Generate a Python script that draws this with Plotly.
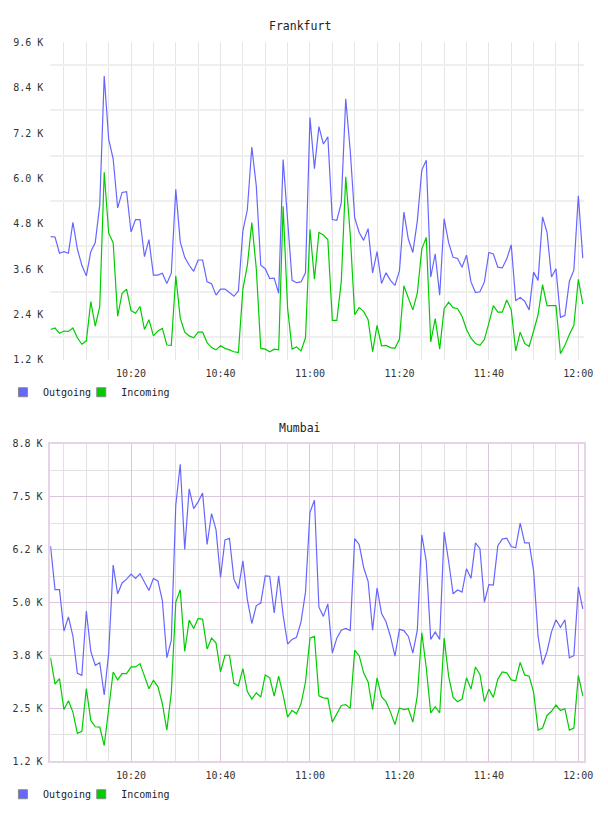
import pandas as pd
import plotly.graph_objects as go

# ---------------- data (values in K) ----------------
times = pd.date_range("2024-01-01 10:02", periods=120, freq="1min")

frankfurt_out = [
    4.46, 4.45, 4.02, 4.06, 4.02, 4.84, 4.13, 3.70, 3.42, 4.06,
    4.30, 5.30, 8.71, 7.04, 6.52, 5.22, 5.63, 5.65, 4.58, 4.91,
    4.91, 3.93, 4.38, 3.44, 3.44, 3.49, 3.22, 3.49, 5.71, 4.32,
    3.91, 3.70, 3.54, 3.84, 3.84, 3.26, 3.21, 2.91, 3.07, 3.07,
    2.98, 2.88, 3.02, 4.61, 5.17, 6.83, 5.80, 3.70, 3.61, 3.35,
    3.36, 2.96, 6.50, 5.00, 3.30, 3.24, 3.26, 3.50, 7.61, 6.26,
    7.37, 6.91, 7.10, 4.91, 4.89, 5.35, 8.11, 6.74, 4.96, 4.57,
    4.36, 4.67, 3.50, 4.06, 3.22, 3.50, 3.30, 3.17, 3.55, 5.11,
    4.39, 4.04, 4.87, 6.22, 6.48, 3.39, 4.00, 2.91, 4.93, 4.30,
    3.91, 3.88, 3.65, 3.97, 3.26, 2.98, 3.00, 3.26, 4.04, 4.00,
    3.65, 3.63, 3.87, 4.24, 2.76, 2.85, 2.75, 2.52, 3.52, 3.30,
    4.98, 4.57, 3.39, 3.61, 2.32, 2.37, 3.28, 3.57, 5.54, 3.89,
]
frankfurt_in = [
    2.00, 2.04, 1.90, 1.96, 1.95, 2.04, 1.78, 1.61, 1.70, 2.74,
    2.09, 2.61, 6.16, 4.55, 4.30, 2.35, 2.96, 3.07, 2.50, 2.43,
    2.61, 2.00, 2.26, 1.83, 1.96, 2.03, 1.59, 1.58, 3.42, 2.30,
    1.93, 1.83, 1.78, 1.93, 1.93, 1.65, 1.52, 1.46, 1.57, 1.50,
    1.46, 1.41, 1.39, 3.07, 3.70, 4.83, 3.61, 1.50, 1.48, 1.41,
    1.48, 1.46, 5.26, 2.56, 1.48, 1.54, 1.43, 1.78, 4.65, 3.33,
    4.57, 4.50, 4.38, 2.24, 2.24, 3.26, 6.04, 4.52, 2.39, 2.58,
    2.48, 2.26, 1.41, 2.11, 1.57, 1.58, 1.52, 1.50, 1.74, 3.16,
    2.83, 2.52, 2.96, 4.13, 4.44, 1.67, 2.29, 1.48, 2.55, 2.72,
    2.58, 2.55, 2.35, 2.00, 1.77, 1.63, 1.58, 1.74, 2.17, 2.63,
    2.46, 2.46, 2.78, 2.52, 1.43, 1.93, 1.63, 1.55, 1.96, 2.39,
    3.19, 2.63, 2.63, 2.63, 1.36, 1.58, 1.87, 2.11, 3.33, 2.67,
]
mumbai_out = [
    6.35, 5.31, 5.31, 4.32, 4.66, 4.20, 3.31, 3.26, 4.80, 3.83,
    3.50, 3.56, 2.79, 3.79, 5.90, 5.21, 5.47, 5.56, 5.68, 5.58,
    5.69, 5.48, 5.29, 5.58, 5.52, 5.05, 3.68, 4.10, 7.33, 8.31,
    6.27, 7.72, 7.25, 7.41, 7.62, 6.39, 7.13, 6.74, 5.60, 6.50,
    6.54, 5.56, 5.33, 6.00, 5.07, 4.50, 4.93, 4.99, 5.64, 5.63,
    4.75, 5.64, 4.70, 4.01, 4.12, 4.17, 4.54, 5.25, 7.16, 7.45,
    4.89, 4.67, 4.97, 3.79, 4.15, 4.34, 4.38, 4.33, 6.53, 6.39,
    5.84, 5.51, 4.34, 5.35, 4.74, 4.54, 4.19, 3.72, 4.36, 4.33,
    4.19, 3.79, 4.34, 6.62, 5.99, 4.12, 4.30, 4.12, 6.69, 5.99,
    5.21, 5.30, 5.25, 5.81, 5.58, 6.43, 6.29, 5.01, 5.43, 5.42,
    6.36, 6.52, 6.54, 6.34, 6.31, 6.90, 6.43, 6.43, 5.76, 4.19,
    3.52, 3.83, 4.30, 4.59, 4.41, 4.59, 3.68, 3.73, 5.37, 4.85,
]
mumbai_in = [
    3.68, 3.05, 3.18, 2.44, 2.65, 2.38, 1.87, 1.92, 2.94, 2.18,
    2.03, 2.02, 1.58, 2.46, 3.34, 3.15, 3.30, 3.30, 3.46, 3.46,
    3.54, 3.24, 2.94, 3.14, 2.99, 2.58, 1.95, 2.85, 5.01, 5.31,
    3.83, 4.58, 4.38, 4.62, 4.60, 3.89, 4.15, 4.03, 3.34, 3.74,
    3.74, 3.07, 3.01, 3.42, 2.87, 2.69, 2.84, 2.74, 3.27, 3.20,
    2.76, 3.24, 2.79, 2.26, 2.42, 2.34, 2.58, 3.10, 4.15, 4.19,
    2.77, 2.72, 2.71, 2.14, 2.34, 2.54, 2.56, 2.47, 3.86, 3.73,
    3.32, 3.10, 2.44, 3.20, 2.75, 2.63, 2.38, 2.08, 2.48, 2.44,
    2.46, 2.14, 2.77, 4.28, 3.44, 2.36, 2.51, 2.36, 4.15, 3.24,
    2.73, 2.63, 2.69, 3.20, 2.93, 3.46, 3.28, 2.63, 2.93, 2.73,
    3.17, 3.34, 3.32, 3.15, 3.13, 3.57, 3.27, 3.24, 2.85, 1.95,
    2.00, 2.30, 2.40, 2.55, 2.42, 2.46, 1.95, 2.00, 3.26, 2.77,
]

frankfurt_ticks = [1.2, 2.4, 3.6, 4.8, 6.0, 7.2, 8.4, 9.6]
frankfurt_labels = ["1.2 K", "2.4 K", "3.6 K", "4.8 K", "6.0 K", "7.2 K", "8.4 K", "9.6 K"]
mumbai_ticks = [1.2 + k * 7.6 / 6 for k in range(7)]
mumbai_labels = ["1.2 K", "2.5 K", "3.8 K", "5.0 K", "6.2 K", "7.5 K", "8.8 K"]

series_names = ["Outgoing", "Incoming"]
colors = ["#6666ff", "#00cc00"]

FONT = "DejaVu Sans Mono"
W, H = 608, 816
x0, x1 = 51 / W, 593 / W
x_range = ["2024-01-01 10:01:56", "2024-01-01 12:01:19"]

fig = go.Figure()

def add_panel(xa, ya, out_vals, in_vals, legends):
    for name, vals, col in zip(series_names, [out_vals, in_vals], colors):
        fig.add_trace(go.Scatter(x=times, y=vals, mode="lines", name=name,
                                 line=dict(color=col, width=1.2),
                                 xaxis=xa, yaxis=ya, showlegend=False))
    for name, col, lg in zip(series_names, colors, legends):
        fig.add_trace(go.Scatter(x=[None], y=[None], name=name, mode="markers",
                                 marker=dict(symbol="square", size=9, color=col,
                                             line=dict(color="#888888", width=1)),
                                 xaxis=xa, yaxis=ya, legend=lg, showlegend=True))

add_panel("x", "y", frankfurt_out, frankfurt_in, ["legend", "legend3"])
add_panel("x2", "y2", mumbai_out, mumbai_in, ["legend2", "legend4"])

tickfont = dict(family=FONT, size=10, color="#333333")
xcommon = dict(range=x_range, type="date", tickformat="%H:%M",
               tick0="2024-01-01 10:00", dtick=20 * 60 * 1000,
               ticks="outside", ticklen=4, tickcolor="rgba(0,0,0,0)",
               tickfont=tickfont, zeroline=False, fixedrange=True)

def legend_at(xpx, ypx):
    return dict(orientation="h", x=xpx / W, xanchor="left", y=1 - ypx / H, yanchor="middle",
                font=dict(family=FONT, size=10, color="#222222"),
                bgcolor="rgba(0,0,0,0)", itemwidth=30)

fig.update_layout(
    width=W, height=H,
    margin=dict(l=0, r=0, t=0, b=0),
    paper_bgcolor="white", plot_bgcolor="white",
    xaxis=dict(domain=[x0, x1], anchor="y", showgrid=True, gridcolor="#e6e6e6", gridwidth=1,
               minor=dict(tick0="2024-01-01 10:00", dtick=5 * 60 * 1000, showgrid=True,
                          gridcolor="#e6e6e6", gridwidth=1, ticks=""),
               showline=False, **xcommon),
    yaxis=dict(domain=[1 - 359 / H, 1 - 37 / H], anchor="x", range=[1.2, 9.6],
               tickvals=frankfurt_ticks, ticktext=frankfurt_labels, showgrid=False,
               minor=dict(tick0=1.8, dtick=1.2, showgrid=True, gridcolor="#efefef",
                          gridwidth=2, ticks=""),
               ticks="outside", ticklen=4, tickcolor="rgba(0,0,0,0)",
               tickfont=tickfont, zeroline=False, showline=False, fixedrange=True),
    xaxis2=dict(domain=[x0, x1], anchor="y2", showgrid=True, gridcolor="#dcc4dc", gridwidth=1,
                minor=dict(tick0="2024-01-01 10:00", dtick=5 * 60 * 1000, showgrid=True,
                           gridcolor="#e2e2e2", gridwidth=1, ticks=""),
                showline=True, mirror=True, linecolor="#e6d4e6", linewidth=1.5, **xcommon),
    yaxis2=dict(domain=[1 - 766.7 / H, 1 - 444.3 / H], anchor="x2", range=[1.2, 8.8],
                tickvals=mumbai_ticks, ticktext=mumbai_labels, showgrid=True,
                gridcolor="#dcc4dc", gridwidth=1,
                minor=dict(tick0=1.2 + 7.6 / 12, dtick=7.6 / 6, showgrid=True,
                           gridcolor="#e2e2e2", gridwidth=1, ticks=""),
                ticks="outside", ticklen=4, tickcolor="rgba(0,0,0,0)",
                tickfont=tickfont, zeroline=False, showline=True, mirror=True,
                linecolor="#e6d4e6", linewidth=1.5, fixedrange=True),
    legend=legend_at(3, 392),
    legend3=legend_at(82.5, 392),
    legend2=legend_at(3, 800),
    legend4=legend_at(82.5, 800),
    annotations=[
        dict(text="Frankfurt", x=0.5, y=1 - 20.5 / H, xref="paper", yref="paper",
             xanchor="center", yanchor="middle",
             showarrow=False, font=dict(family=FONT, size=11.5, color="#222222")),
        dict(text="Mumbai", x=0.5, y=1 - 428 / H, xref="paper", yref="paper",
             xanchor="center", yanchor="middle",
             showarrow=False, font=dict(family=FONT, size=11.5, color="#222222")),
    ],
    showlegend=True,
)

fig.write_html("out.html")
